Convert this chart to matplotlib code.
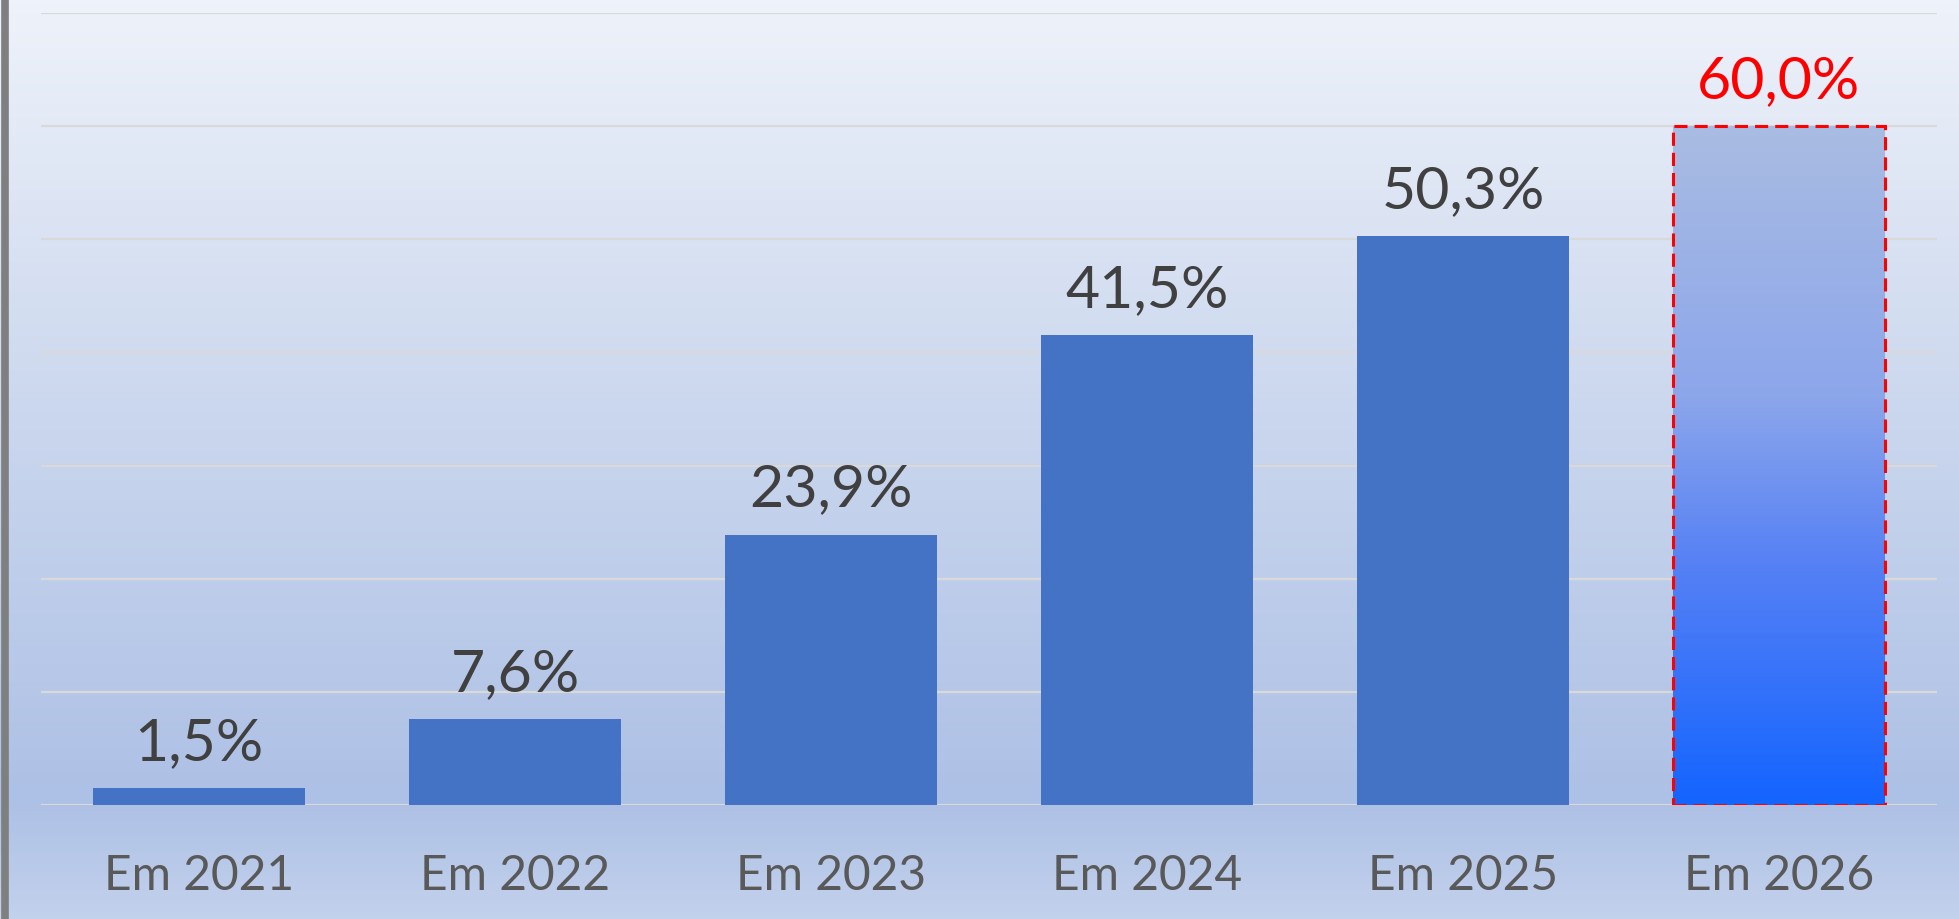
import numpy as np
import matplotlib
matplotlib.use("Agg")
import matplotlib.pyplot as plt
from matplotlib.colors import LinearSegmentedColormap
from matplotlib.lines import Line2D

plt.rcParams["font.family"] = ["Lato", "DejaVu Sans"]

# ── data ──────────────────────────────────────────────────────────────
categories = ["Em 2021", "Em 2022", "Em 2023", "Em 2024", "Em 2025", "Em 2026"]
values = [1.5, 7.6, 23.9, 41.5, 50.3, 60.0]
value_labels = ["1,5%", "7,6%", "23,9%", "41,5%", "50,3%", "60,0%"]
highlight = [False, False, False, False, False, True]   # projected year
y_ticks = [0, 10, 20, 30, 40, 50, 60, 70]

BAR_COLOR = "#4472C4"
W, H = 1959, 919

fig = plt.figure(figsize=(W / 100, H / 100), dpi=100)

# ── figure background gradient ───────────────────────────────────────
bg = fig.add_axes([0, 0, 1, 1], zorder=0)
bg_cmap = LinearSegmentedColormap.from_list(
    "bg", [(0.0, "#EEF2FA"), (0.45, "#CBD7EE"), (0.87, "#ADC0E5"), (1.0, "#C2D1EC")])
bg.imshow(np.linspace(0, 1, 256).reshape(-1, 1), aspect="auto", cmap=bg_cmap,
          extent=[0, 1, 1, 0])
bg.set_xlim(0, 1)
bg.set_ylim(1, 0)
bg.axis("off")

# left border line
fig.add_artist(Line2D([4.5 / W, 4.5 / W], [0, 1], color="#7F7F7F", linewidth=5.5))

# ── main axes ────────────────────────────────────────────────────────
ax = fig.add_axes([41 / W, 114 / H, 1896 / W, (805 - 13) / H], zorder=1)
ax.patch.set_alpha(0)
for s in ax.spines.values():
    s.set_visible(False)

x = np.arange(len(categories))
bars = ax.bar(x, values, width=0.67, color=BAR_COLOR, zorder=3)

ax.set_xlim(-0.5, len(categories) - 0.5)
ax.set_ylim(0, 70)
ax.set_yticks(y_ticks)
ax.set_yticklabels([])
ax.tick_params(axis="y", length=0)
ax.grid(axis="y", color="#D9D9D9", linewidth=1.6, zorder=1)
ax.set_axisbelow(True)

ax.set_xticks(x)
ax.set_xticklabels(categories, fontsize=34.5, color="#595959")
ax.tick_params(axis="x", length=0, pad=35)

# gradient fill + red dashed outline for the projected bar
grad_cmap = LinearSegmentedColormap.from_list(
    "proj", [(0.0, "#1464FF"), (0.35, "#5580F5"), (0.6, "#8CA6EB"), (1.0, "#A9BCE2")])
for bar, hl in zip(bars, highlight):
    if not hl:
        continue
    bx, bw, bh = bar.get_x(), bar.get_width(), bar.get_height()
    bar.set_facecolor("none")
    im = ax.imshow(np.linspace(0, 1, 256).reshape(-1, 1), cmap=grad_cmap,
                   aspect="auto", origin="lower",
                   extent=[bx, bx + bw, 0, bh], zorder=3)
    im.set_clip_path(bar)
    bar.set_edgecolor("#FF0000")
    bar.set_linestyle((0, (4.3, 2.3)))
    bar.set_linewidth(2.2)
    bar.set_zorder(4)

# value labels
for bar, lab, hl in zip(bars, value_labels, highlight):
    ax.annotate(lab, (bar.get_x() + bar.get_width() / 2, bar.get_height()),
                xytext=(0, 13), textcoords="offset points",
                ha="center", va="bottom", fontsize=42.5,
                color="#FF0000" if hl else "#404040", zorder=5)

fig.savefig("out.png", dpi=100)
